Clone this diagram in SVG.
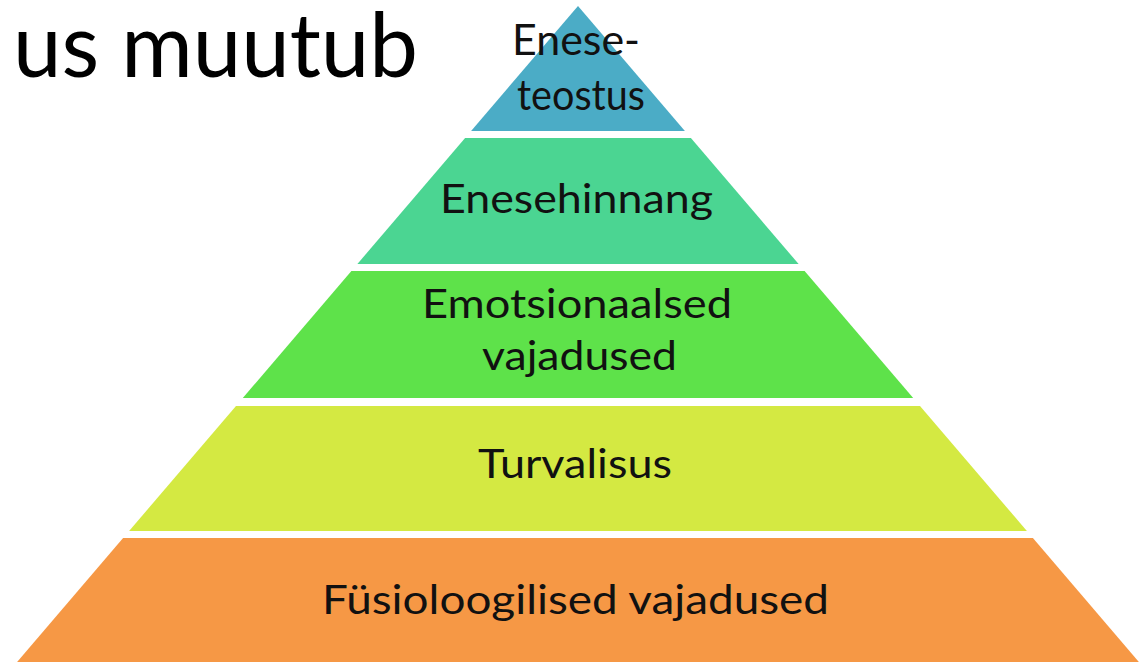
<svg xmlns="http://www.w3.org/2000/svg" width="1146" height="662" viewBox="0 0 1146 662">
<style>
.lbl{font-family:Lato,"Open Sans","Liberation Sans",sans-serif;font-size:40px;fill:#111;}
.title{font-family:Lato,"Open Sans","Liberation Sans",sans-serif;font-size:89px;fill:#000;}
</style>
<rect width="1146" height="662" fill="#ffffff"/>
<text class="title" x="13" y="77" textLength="405" lengthAdjust="spacingAndGlyphs">us muutub</text>
<g id="tier1">
<polygon points="578,6 684.9,131 471.1,131" fill="#4BACC6"/>
<text class="lbl" x="512" y="55" style="font-size:42px" textLength="128" lengthAdjust="spacingAndGlyphs">Enese-</text>
<text class="lbl" x="517" y="110" style="font-size:42px" textLength="128" lengthAdjust="spacingAndGlyphs">teostus</text>
</g>
<g id="tier2">
<polygon points="465.1,138 690.9,138 798.6,264 357.4,264" fill="#4BD592"/>
<text class="lbl" x="440" y="213" textLength="273" lengthAdjust="spacingAndGlyphs">Enesehinnang</text>
</g>
<g id="tier3">
<polygon points="351.4,271 804.6,271 913.2,398 242.8,398" fill="#5EE24A"/>
<text class="lbl" x="422" y="318" textLength="310" lengthAdjust="spacingAndGlyphs">Emotsionaalsed</text>
<text class="lbl" x="482" y="370" textLength="195" lengthAdjust="spacingAndGlyphs">vajadused</text>
</g>
<g id="tier4">
<polygon points="236,406 920,406 1026.9,531 129.1,531" fill="#D4E942"/>
<text class="lbl" x="478" y="478" textLength="194" lengthAdjust="spacingAndGlyphs">Turvalisus</text>
</g>
<g id="tier5">
<polygon points="123.1,538 1032.9,538 1140.6,664 15.4,664" fill="#F69845"/>
<text class="lbl" x="322" y="614" textLength="507" lengthAdjust="spacingAndGlyphs">Füsioloogilised vajadused</text>
</g>
<g id="connectors"/>
</svg>
